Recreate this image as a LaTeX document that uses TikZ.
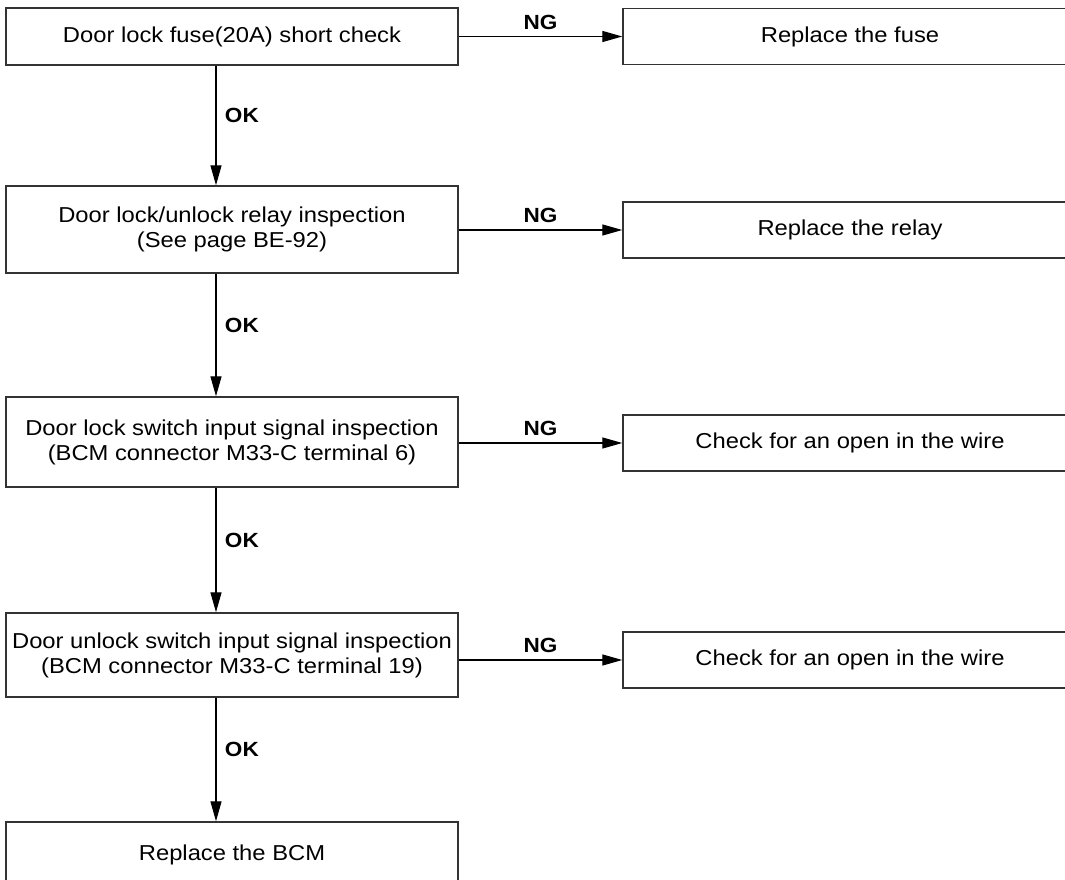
\documentclass[tikz,border=0pt]{standalone}
\usepackage{fontspec}
\setmainfont{Liberation Sans}[FakeStretch=1.1]
\usetikzlibrary{arrows.meta, positioning}

\begin{document}
\begin{tikzpicture}[
    x=1pt, y=-1pt,
    check/.style = {rectangle, draw=black!80, line width=1.4pt, align=center, font=\fontsize{21.6}{25}\selectfont, minimum width=452pt, inner sep=0pt},
    result/.style = {check, minimum width=454pt, minimum height=56pt},
    arrow/.style = {draw=black, line width=1.3pt, -{Triangle[length=20pt, width=11pt]}},
    lbl/.style = {font=\fontsize{20.5}{24}\selectfont\bfseries}
]
\useasboundingbox (0,0) rectangle (1065,880);

% Left column: checks
\node (c_fuse) [check, minimum height=57pt] at (232, 36.5) {Door lock fuse(20A) short check};
\node (c_relay) [check, minimum height=87pt] at (232, 229.5) {Door lock/unlock relay inspection\\(See page BE-92)};
\node (c_lock) [check, minimum height=90pt] at (232, 442) {Door lock switch input signal inspection\\(BCM connector M33-C terminal 6)};
\node (c_unlock) [check, minimum height=84pt] at (232, 655) {Door unlock switch input signal inspection\\(BCM connector M33-C terminal 19)};
\node (c_bcm) [check, minimum height=66pt] at (232, 855) {Replace the BCM};

% Right column: NG results
\node (r_fuse) [result] at (850, 36.5) {Replace the fuse};
\node (r_relay) [result] at (850, 230) {Replace the relay};
\node (r_lock) [result] at (850, 443) {Check for an open in the wire};
\node (r_unlock) [result] at (850, 660) {Check for an open in the wire};

% OK path
\draw [arrow] ([xshift=-16pt]c_fuse.south) -- node[lbl, right=5pt, pos=0.42]{OK} ([xshift=-16pt]c_relay.north);
\draw [arrow] ([xshift=-16pt]c_relay.south) -- node[lbl, right=5pt, pos=0.42]{OK} ([xshift=-16pt]c_lock.north);
\draw [arrow] ([xshift=-16pt]c_lock.south) -- node[lbl, right=5pt, pos=0.42]{OK} ([xshift=-16pt]c_unlock.north);
\draw [arrow] ([xshift=-16pt]c_unlock.south) -- node[lbl, right=5pt, pos=0.42]{OK} ([xshift=-16pt]c_bcm.north);

% NG path
\draw [arrow] (r_fuse.west -| c_fuse.east) -- node[lbl, above=3pt]{NG} (r_fuse.west);
\draw [arrow] (r_relay.west -| c_relay.east) -- node[lbl, above=3pt]{NG} (r_relay.west);
\draw [arrow] (r_lock.west -| c_lock.east) -- node[lbl, above=3pt]{NG} (r_lock.west);
\draw [arrow] (r_unlock.west -| c_unlock.east) -- node[lbl, above=3pt]{NG} (r_unlock.west);

\end{tikzpicture}
\end{document}
